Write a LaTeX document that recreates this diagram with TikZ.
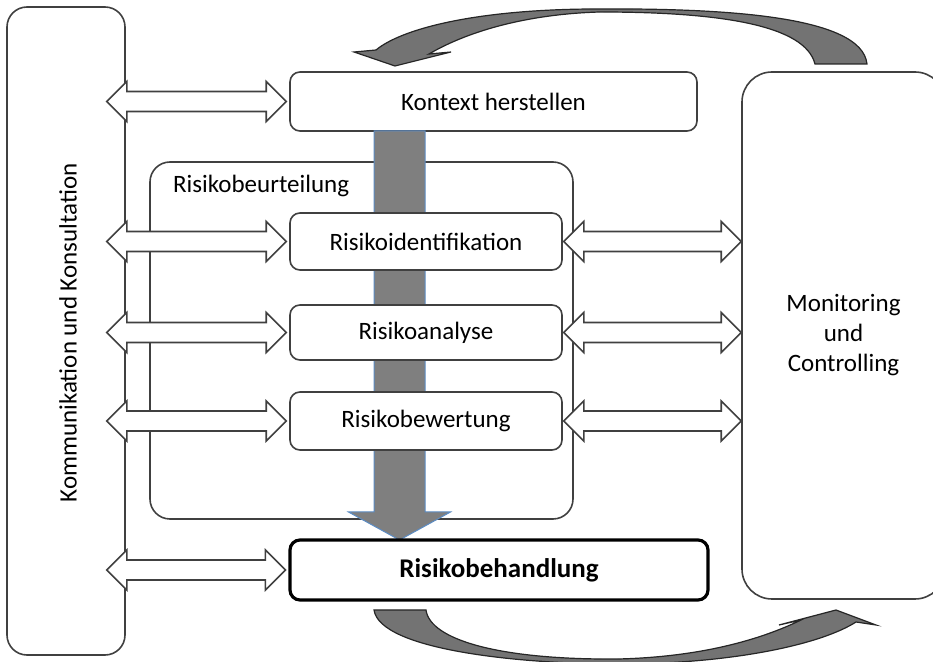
\documentclass[tikz,border=0pt]{standalone}
\usepackage{fontspec}
\setmainfont{Carlito}
\usetikzlibrary{calc}
\definecolor{boxline}{HTML}{404040}
\definecolor{flowgray}{HTML}{7F7F7F}
\definecolor{flowblue}{HTML}{5B8CC4}
\definecolor{swooshgray}{HTML}{737373}
\tikzset{
  box/.style={draw=boxline, line width=0.8pt, rounded corners=5pt, fill=white,
    font=\fontsize{12.5}{15}\selectfont, align=center, inner sep=0pt},
  hollow/.style={draw=boxline, line width=0.8pt, fill=white, line join=miter},
  flow/.style={fill=flowgray, draw=flowblue, line width=0.5pt},
  swoosh/.style={fill=swooshgray, draw=black!85, line width=0.6pt}
}
\newcommand{\hollowarrow}[2]{%
  \draw[hollow] let \p1=#1, \p2=#2 in
    (\x1,\y1) -- (\x1+10pt,\y1+10pt) -- (\x1+10pt,\y1+5pt) -- (\x2-10pt,\y1+5pt)
    -- (\x2-10pt,\y1+10pt) -- (\x2,\y1) -- (\x2-10pt,\y1-10pt) -- (\x2-10pt,\y1-5pt)
    -- (\x1+10pt,\y1-5pt) -- (\x1+10pt,\y1-10pt) -- cycle;}
\begin{document}
\begin{tikzpicture}[x=0.5pt, y=-0.5pt]
\useasboundingbox (0,0) rectangle (933,662);
\node[box, rounded corners=10pt, minimum width=59pt, minimum height=324pt] (komm) at (66,331) {};
\node[rotate=90, font=\fontsize{12.5}{15}\selectfont] (kommtext) at (68,333) {Kommunikation und Konsultation};
\node[box, rounded corners=15pt, minimum width=101.5pt, minimum height=263.5pt] (monitor) at (843.5,335.5) {Monitoring\\und\\Controlling};
\node[box, minimum width=203.5pt, minimum height=29.5pt] (kontext) at (493.5,101.5) {Kontext herstellen};
\node[box, rounded corners=10pt, minimum width=211.5pt, minimum height=178.5pt] (beurt) at (361.5,340.5) {};
\node[anchor=base west, font=\fontsize{12.5}{15}\selectfont] (beurttext) at (166,193) {Risikobeurteilung};
\coordinate (flowtop) at (399.5,131);
\coordinate (flowtip) at (399.5,540);
\draw[flow] ($(flowtop)+(-25.5,0)$) |- ($(flowtip)+(-51,-28)$) -- (flowtip)
  -- ($(flowtip)+(51,-28)$) -| ($(flowtop)+(25.5,0)$) -- cycle;
\node[box, minimum width=136pt, minimum height=28.5pt] (ident) at (426,241.5) {Risikoidentifikation};
\node[box, minimum width=136pt, minimum height=27.5pt] (analyse) at (426,332.5) {Risikoanalyse};
\node[box, minimum width=136pt, minimum height=29pt] (bewert) at (426,421) {Risikobewertung};
\node[box, draw=black, line width=1.6pt, minimum width=209pt, minimum height=30pt,
  font=\bfseries\fontsize{13.5}{15}\selectfont] (behandl) at (499,570) {Risikobehandlung};
\foreach \b in {kontext, ident, analyse, bewert, behandl}
  {\hollowarrow{($(komm.east |- \b.west)+(-19,0)$)}{($(\b.west)+(-3,0)$)}}
\foreach \b in {ident, analyse, bewert}
  {\hollowarrow{($(\b.east)+(1,0)$)}{(monitor.west |- \b.east)}}
\draw[swoosh] (867,64) .. controls (862,15) and (720,8) .. (590,9)
  .. controls (470,10) and (400,30) .. (376,50) -- (354,52) -- (395,66) -- (451,52) -- (429,54)
  .. controls (470,30) and (530,14) .. (600,12) .. controls (720,12) and (805,25) .. (815,64) -- cycle;
\draw[swoosh] (374,610) .. controls (380,650) and (520,664) .. (618,664)
  .. controls (730,664) and (820,645) .. (856,622) -- (876,625) -- (836,610) -- (779,625) -- (801,620)
  .. controls (760,640) and (700,657) .. (618,659) .. controls (500,660) and (430,640) .. (426,610) -- cycle;
\end{tikzpicture}
\end{document}
